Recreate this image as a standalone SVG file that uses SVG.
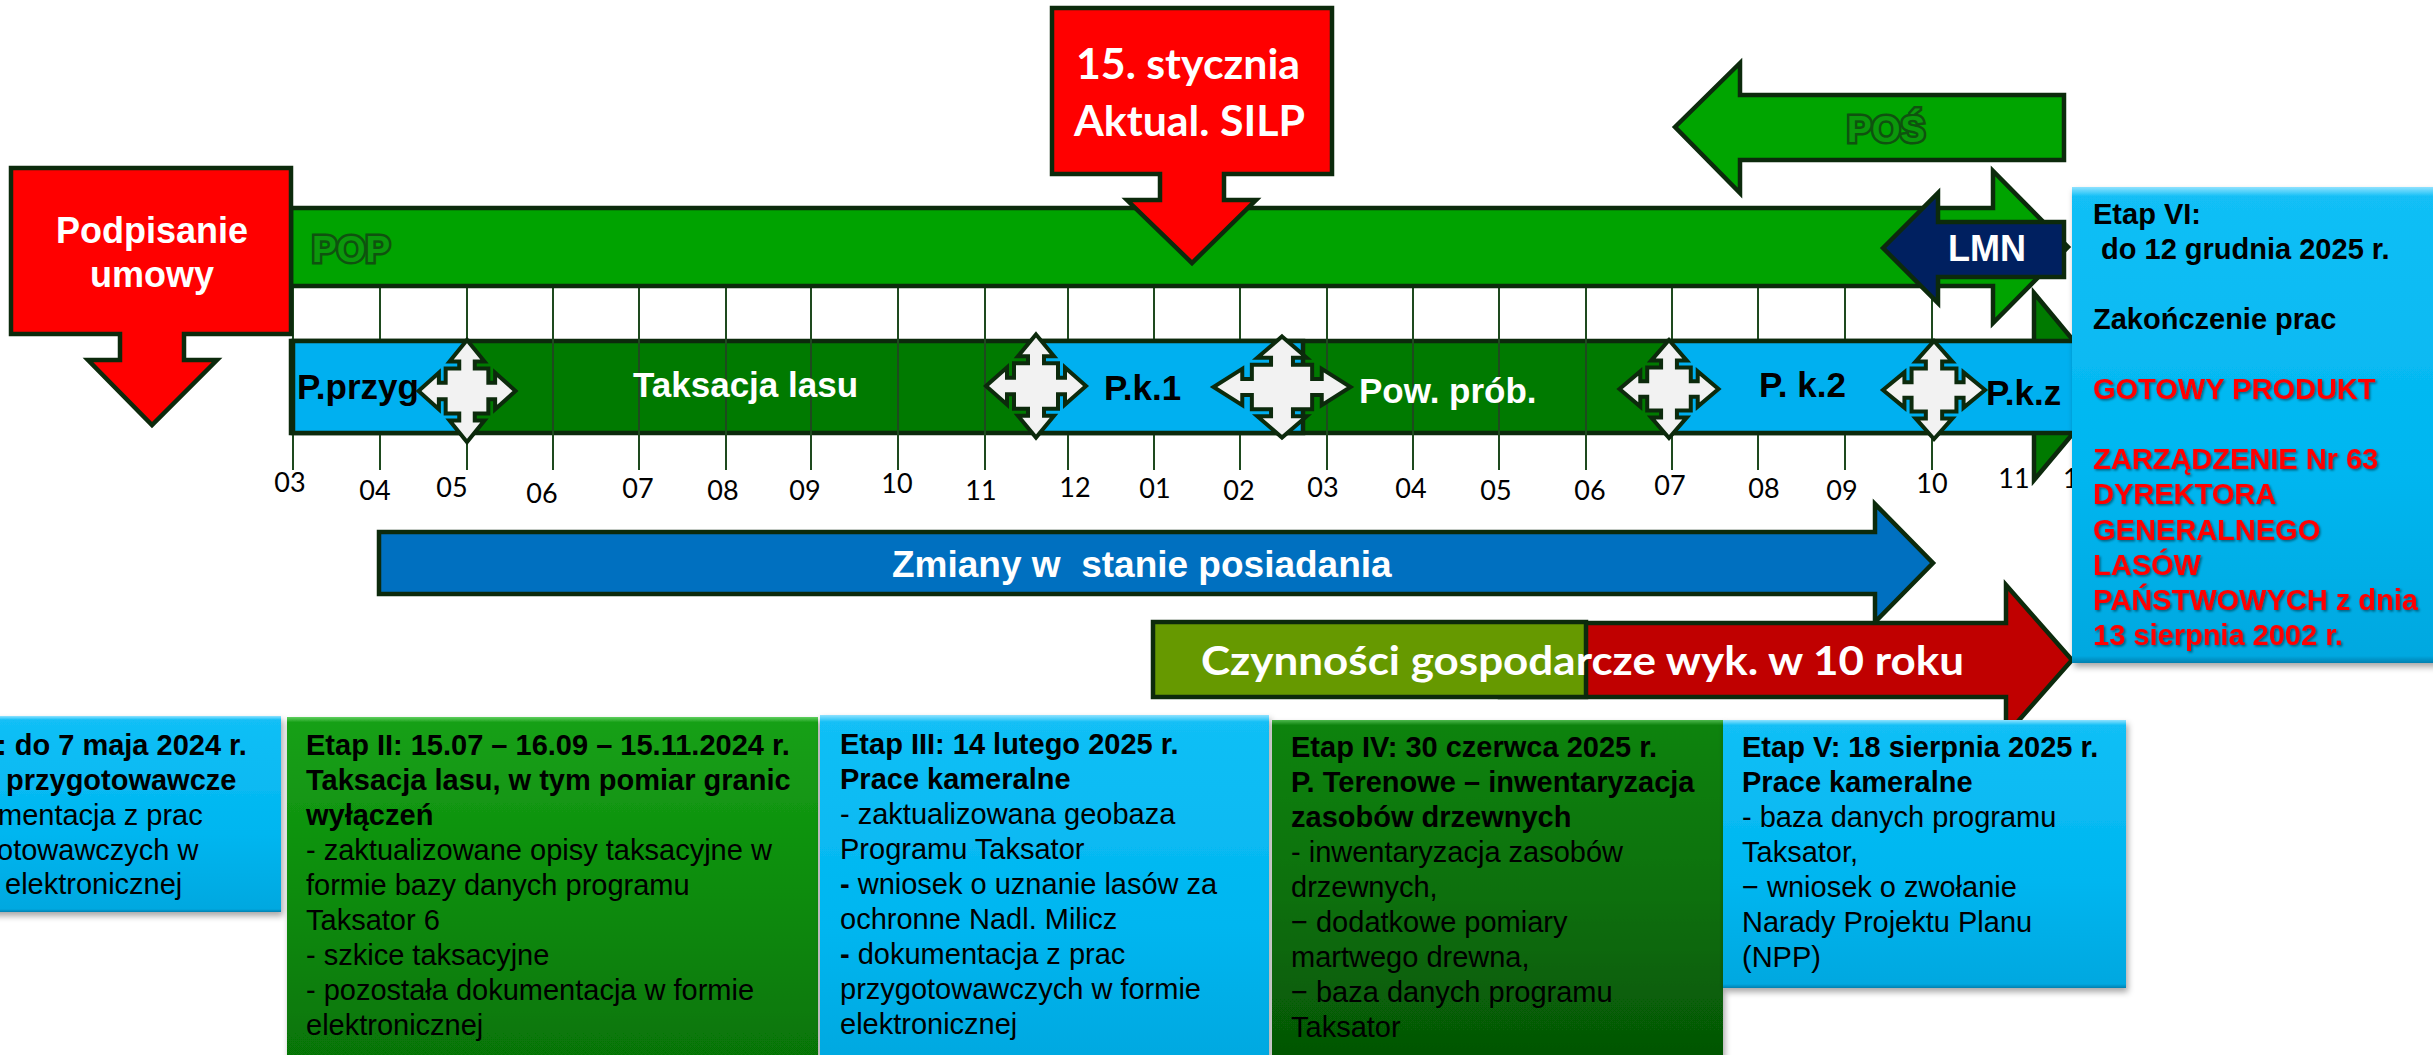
<svg xmlns="http://www.w3.org/2000/svg" width="2433" height="1055" viewBox="0 0 2433 1055">
<style>
.st{stroke:#0c2a0c;stroke-width:4.5;stroke-linejoin:miter}
.tick{stroke:#1e4a1e;stroke-width:2}
.lbl{font-family:Lato,"Liberation Sans",Arial,sans-serif;font-size:27px;fill:#000;text-anchor:middle}
.bl{font-family:"Liberation Sans",Arial,sans-serif;font-weight:bold}
.cal{font-family:Lato,"Liberation Sans",Arial,sans-serif;font-weight:bold;fill:#fff}
.row{font-family:"Liberation Sans",Arial,sans-serif;font-weight:bold;font-size:35px}
.pn{font-family:"Liberation Sans",Arial,sans-serif;font-size:29px;fill:#000}
.pb{font-weight:bold}
.out{font-family:"Liberation Sans",Arial,sans-serif;font-weight:bold;font-size:37px;fill:#0b980b;stroke:#0f520f;stroke-width:5;paint-order:stroke}
.red{fill:#ff0000;font-weight:bold}
</style>
<defs>
<linearGradient id="gBlue" x1="0" y1="0" x2="0" y2="1">
<stop offset="0" stop-color="#8fe2ff"/><stop offset="0.02" stop-color="#12bff6"/><stop offset="0.6" stop-color="#00b6f0"/><stop offset="0.985" stop-color="#00a8e0"/><stop offset="1" stop-color="#0080b0"/>
</linearGradient>
<linearGradient id="gGreen2" x1="0" y1="0" x2="0" y2="1">
<stop offset="0" stop-color="#5fd05f"/><stop offset="0.015" stop-color="#18a018"/><stop offset="0.5" stop-color="#0b8c0b"/><stop offset="1" stop-color="#067306"/>
</linearGradient>
<linearGradient id="gGreen4" x1="0" y1="0" x2="0" y2="1">
<stop offset="0" stop-color="#4cb84c"/><stop offset="0.015" stop-color="#0e830e"/><stop offset="0.5" stop-color="#0a700a"/><stop offset="1" stop-color="#055405"/>
</linearGradient>
<filter id="sh" x="-5%" y="-5%" width="115%" height="115%">
<feDropShadow dx="2" dy="4" stdDeviation="3" flood-color="#000" flood-opacity="0.35"/>
</filter>
<filter id="tsh" x="-5%" y="-20%" width="110%" height="150%">
<feDropShadow dx="1.5" dy="1.5" stdDeviation="0.8" flood-color="#000" flood-opacity="0.45"/>
</filter>
<path id="quad" d="M0,-50 L18,-29 L8,-29 L8,-22 L22,-22 L22,-8 L29,-8 L29,-18 L50,0 L29,18 L29,8 L22,8 L22,22 L8,22 L8,29 L18,29 L0,50 L-18,29 L-8,29 L-8,22 L-22,22 L-22,8 L-29,8 L-29,18 L-50,0 L-29,-18 L-29,-8 L-22,-8 L-22,-22 L-8,-22 L-8,-29 L-18,-29 Z" fill="#f2f2f2" stroke="#0c2a0c" stroke-width="4" vector-effect="non-scaling-stroke"/>
</defs>
<rect width="2433" height="1055" fill="#fff"/>

<g id="taksacja-row">
<path class="st" fill="#007a00" d="M291,341 H2034 V293 L2112,387 L2034,480 V433 H291 Z"/>
</g>

<g id="timeline-ticks">
<g class="tick">
<line x1="293" y1="287" x2="293" y2="470"/><line x1="380" y1="287" x2="380" y2="470"/><line x1="467" y1="287" x2="467" y2="470"/><line x1="553" y1="287" x2="553" y2="470"/><line x1="639" y1="287" x2="639" y2="470"/><line x1="726" y1="287" x2="726" y2="470"/><line x1="811" y1="287" x2="811" y2="470"/><line x1="898" y1="287" x2="898" y2="470"/><line x1="985" y1="287" x2="985" y2="470"/><line x1="1068" y1="287" x2="1068" y2="470"/><line x1="1154" y1="287" x2="1154" y2="470"/><line x1="1240" y1="287" x2="1240" y2="470"/><line x1="1327" y1="287" x2="1327" y2="470"/><line x1="1413" y1="287" x2="1413" y2="470"/><line x1="1499" y1="287" x2="1499" y2="470"/><line x1="1586" y1="287" x2="1586" y2="470"/><line x1="1672" y1="287" x2="1672" y2="470"/><line x1="1758" y1="287" x2="1758" y2="470"/><line x1="1845" y1="287" x2="1845" y2="470"/><line x1="1932" y1="287" x2="1932" y2="470"/>
</g>
<g class="lbl">
<text x="290" y="492">03</text><text x="375" y="500">04</text><text x="452" y="497">05</text><text x="542" y="503">06</text><text x="638" y="498">07</text><text x="723" y="500">08</text><text x="805" y="500">09</text><text x="897" y="493">10</text><text x="981" y="500">11</text><text x="1075" y="497">12</text><text x="1155" y="498">01</text><text x="1239" y="500">02</text><text x="1323" y="497">03</text><text x="1411" y="498">04</text><text x="1496" y="500">05</text><text x="1590" y="500">06</text><text x="1670" y="495">07</text><text x="1764" y="498">08</text><text x="1842" y="500">09</text><text x="1932" y="493">10</text><text x="2014" y="488">11</text><text x="2063" y="488" style="text-anchor:start">1</text>
</g>
</g>

<g id="pos-arrow">
<path class="st" fill="#00a500" d="M1675,127 L1740,63 V95 H2064 V160 H1740 V193 Z"/>
<text class="out" x="1847" y="142">POŚ</text>
</g>

<g id="pop-arrow">
<path class="st" fill="#00a300" d="M291,208 H1993 V171 L2068,247 L1993,323 V286 H291 Z"/>
<text class="out" x="312" y="262">POP</text>
</g>

<g id="lmn-arrow">
<path class="st" fill="#002060" d="M1883,248 L1938,193 V222 H2064 V277 H1938 V303 Z"/>
<text class="bl" x="1948" y="261" font-size="36" fill="#fff">LMN</text>
</g>

<g id="podpisanie">
<path class="st" fill="#ff0000" d="M11,168 H291 V334 H184 V360 H217 L152,425 L88,360 H120 V334 H11 Z"/>
<text class="bl" x="152" y="243" font-size="36" fill="#fff" text-anchor="middle">Podpisanie</text>
<text class="bl" x="152" y="287" font-size="36" fill="#fff" text-anchor="middle">umowy</text>
</g>

<g id="stycznia">
<path class="st" fill="#ff0000" d="M1052,8 H1332 V174 H1224 V200 H1256 L1192,263 L1127,200 H1160 V174 H1052 Z"/>
<text class="cal" x="1076" y="79" font-size="42" textLength="224" lengthAdjust="spacingAndGlyphs">15. stycznia</text>
<text class="cal" x="1074" y="136" font-size="42" textLength="231" lengthAdjust="spacingAndGlyphs">Aktual. SILP</text>
</g>

<g id="phase-segments">
<rect class="st" fill="#00b0f0" x="293" y="341" width="174" height="92"/>
<rect class="st" fill="#00b0f0" x="1036" y="341" width="267" height="92"/>
<rect class="st" fill="#00b0f0" x="1669" y="341" width="440" height="92"/>
<text class="row" x="297" y="399" fill="#000">P.przyg</text>
<text class="row" x="633" y="397" fill="#fff">Taksacja lasu</text>
<text class="row" x="1104" y="400" fill="#000">P.k.1</text>
<text class="row" x="1359" y="403" fill="#fff">Pow. prób.</text>
<text class="row" x="1759" y="397" fill="#000">P. k.2</text>
<text class="row" x="1986" y="405" fill="#000">P.k.z</text>
</g>

<g id="milestones">
<use href="#quad" transform="translate(467,391) scale(0.97,1.02)"/>
<use href="#quad" transform="translate(1036,386) scale(1,1.03)"/>
<use href="#quad" transform="translate(1282,387) scale(1.37,1.01)"/>
<use href="#quad" transform="translate(1669,389) scale(0.99,0.98)"/>
<use href="#quad" transform="translate(1934,390) scale(1.02,0.98)"/>
</g>

<g id="zmiany-arrow">
<path class="st" fill="#0070c0" d="M379,532 H1875 V504 L1933,563 L1875,622 V594 H379 Z"/>
<text class="bl" x="892" y="577" font-size="37" fill="#fff" xml:space="preserve">Zmiany w  stanie posiadania</text>
</g>

<g id="czynnosci-arrow">
<path class="st" fill="#c00000" d="M1500,623 H2006 V585 L2072,660 L2006,735 V697 H1500 Z"/>
<rect class="st" fill="#669900" x="1153" y="622" width="433" height="75"/>
<text class="cal" x="1201" y="675" font-size="41" textLength="763" lengthAdjust="spacingAndGlyphs">Czynności gospodarcze wyk. w 10 roku</text>
</g>

<g id="etap-1">
<rect x="-20" y="716" width="301" height="196" fill="url(#gBlue)" filter="url(#sh)"/>
<g class="pn">
<text class="pb" x="-3" y="755">: do 7 maja 2024 r.</text>
<text class="pb" x="6" y="790">przygotowawcze</text>
<text x="-2" y="825">mentacja z prac</text>
<text x="-3" y="860">otowawczych w</text>
<text x="5" y="894">elektronicznej</text>
</g>
</g>

<g id="etap-2">
<rect x="287" y="717" width="531" height="350" fill="url(#gGreen2)" filter="url(#sh)"/>
<g class="pn">
<text class="pb" x="306" y="755">Etap II: 15.07 – 16.09 – 15.11.2024 r.</text>
<text class="pb" x="306" y="790">Taksacja lasu, w tym pomiar granic</text>
<text class="pb" x="306" y="825">wyłączeń</text>
<text x="306" y="860">- zaktualizowane opisy taksacyjne w</text>
<text x="306" y="895">formie bazy danych programu</text>
<text x="306" y="930">Taksator 6</text>
<text x="306" y="965">- szkice taksacyjne</text>
<text x="306" y="1000">- pozostała dokumentacja w formie</text>
<text x="306" y="1035">elektronicznej</text>
</g>
</g>

<g id="etap-3">
<rect x="820" y="715" width="449" height="352" fill="url(#gBlue)" filter="url(#sh)"/>
<g class="pn">
<text class="pb" x="840" y="754">Etap III: 14 lutego 2025 r.</text>
<text class="pb" x="840" y="789">Prace kameralne</text>
<text x="840" y="824">- zaktualizowana geobaza</text>
<text x="840" y="859">Programu Taksator</text>
<text x="840" y="894"><tspan class="pb">-</tspan> wniosek o uznanie lasów za</text>
<text x="840" y="929">ochronne Nadl. Milicz</text>
<text x="840" y="964"><tspan class="pb">-</tspan> dokumentacja z prac</text>
<text x="840" y="999">przygotowawczych w formie</text>
<text x="840" y="1034">elektronicznej</text>
</g>
</g>

<g id="etap-4">
<rect x="1272" y="720" width="451" height="347" fill="url(#gGreen4)" filter="url(#sh)"/>
<g class="pn">
<text class="pb" x="1291" y="757">Etap IV: 30 czerwca 2025 r.</text>
<text class="pb" x="1291" y="792">P. Terenowe – inwentaryzacja</text>
<text class="pb" x="1291" y="827">zasobów drzewnych</text>
<text x="1291" y="862">- inwentaryzacja zasobów</text>
<text x="1291" y="897">drzewnych,</text>
<text x="1291" y="932">− dodatkowe pomiary</text>
<text x="1291" y="967">martwego drewna,</text>
<text x="1291" y="1002">− baza danych programu</text>
<text x="1291" y="1037">Taksator</text>
</g>
</g>

<g id="etap-5">
<rect x="1723" y="720" width="403" height="268" fill="url(#gBlue)" filter="url(#sh)"/>
<g class="pn">
<text class="pb" x="1742" y="757">Etap V: 18 sierpnia 2025 r.</text>
<text class="pb" x="1742" y="792">Prace kameralne</text>
<text x="1742" y="827">- baza danych programu</text>
<text x="1742" y="862">Taksator,</text>
<text x="1742" y="897">− wniosek o zwołanie</text>
<text x="1742" y="932">Narady Projektu Planu</text>
<text x="1742" y="967">(NPP)</text>
</g>
</g>

<g id="etap-6">
<rect x="2072" y="187" width="380" height="476" fill="url(#gBlue)" filter="url(#sh)"/>
<g class="pn pb">
<text x="2093" y="224">Etap VI:</text>
<text x="2093" y="259" xml:space="preserve"> do 12 grudnia 2025 r.</text>
<text x="2093" y="329">Zakończenie prac</text>
<g class="red" filter="url(#tsh)">
<text x="2093" y="399">GOTOWY PRODUKT</text>
<text x="2093" y="469">ZARZĄDZENIE Nr 63</text>
<text x="2093" y="504">DYREKTORA</text>
<text x="2093" y="540">GENERALNEGO</text>
<text x="2093" y="575">LASÓW</text>
<text x="2093" y="610">PAŃSTWOWYCH z dnia</text>
<text x="2093" y="645">13 sierpnia 2002 r.</text>
</g>
</g>
</g>
</svg>
